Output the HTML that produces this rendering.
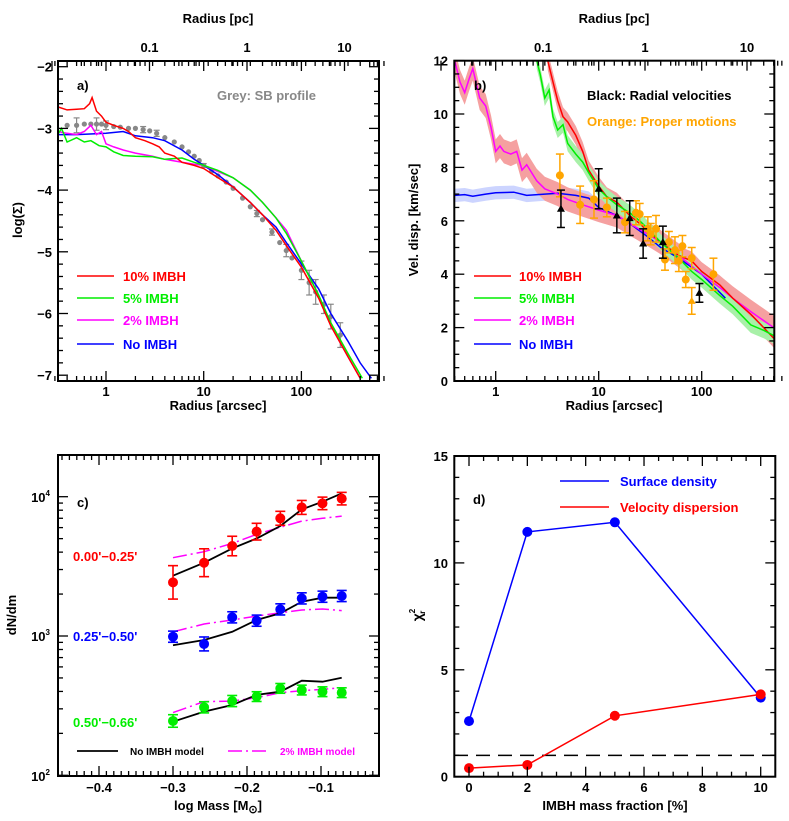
<!DOCTYPE html>
<html><head><meta charset="utf-8">
<style>
html,body{margin:0;padding:0;background:#fff;}
svg{display:block;font-family:"Liberation Sans",sans-serif;font-weight:bold;}
</style></head>
<body>
<svg id="fig" width="789" height="821" viewBox="0 0 789 821" xmlns="http://www.w3.org/2000/svg">
<defs>
<clipPath id="clipA"><rect x="58" y="61" width="321" height="320"/></clipPath>
<clipPath id="clipB"><rect x="454.3" y="60.7" width="320" height="320.3"/></clipPath>
<clipPath id="clipC"><rect x="58" y="455" width="321" height="321"/></clipPath>
<clipPath id="clipD"><rect x="454.3" y="456" width="321" height="320.7"/></clipPath>
</defs>
</svg>
<script>
// ===== Panel a data (radius arcsec, log Sigma) =====
const aRedR=[0.32,0.4,0.5,0.6,0.68,0.72,0.8,0.9,1.0,1.2,1.5,1.7,2,2.5,3,3.5,4,5,6,8,10,14,20,30,40,55,70,100,150,200,300,400];
const aRedV=[-2.65,-2.7,-2.69,-2.68,-2.6,-2.5,-2.72,-2.8,-2.9,-2.95,-3.0,-3.05,-3.15,-3.2,-3.25,-3.3,-3.4,-3.45,-3.55,-3.6,-3.65,-3.8,-3.95,-4.2,-4.4,-4.65,-4.9,-5.25,-5.75,-6.2,-6.7,-7.05];
const aGrnR=[0.32,0.35,0.4,0.5,0.6,0.7,0.85,1.0,1.2,1.5,2,3,4,6,8,10,14,20,30,40,55,70,100,150,200,300,420];
const aGrnV=[-3.1,-3.0,-3.22,-3.15,-3.22,-3.2,-3.28,-3.3,-3.38,-3.44,-3.45,-3.46,-3.5,-3.48,-3.55,-3.6,-3.68,-3.8,-4.0,-4.2,-4.45,-4.7,-5.15,-5.7,-6.15,-6.65,-7.05];
const aMagR=[0.32,0.4,0.5,0.6,0.7,0.8,0.9,1.0,1.2,1.5,2,3,4,6,8,10,14,20,30,40,55,70,100,150,200,300,400];
const aMagV=[-3.05,-3.08,-3.1,-3.05,-2.95,-3.1,-3.05,-3.25,-3.3,-3.35,-3.4,-3.45,-3.5,-3.55,-3.58,-3.6,-3.7,-3.8,-4.0,-4.2,-4.45,-4.65,-5.15,-5.7,-6.2,-6.7,-7.05];
const aBluR=[0.32,0.5,1,1.5,2,3,4,6,8,10,14,20,30,40,55,70,100,150,200,300,400,520];
const aBluV=[-3.1,-3.1,-3.08,-3.05,-3.12,-3.15,-3.2,-3.35,-3.5,-3.6,-3.75,-3.95,-4.2,-4.4,-4.6,-4.85,-5.2,-5.6,-6.0,-6.45,-6.8,-7.05];
const aSbR=[0.4,0.5,0.6,0.7,0.8,0.9,1.0,1.2,1.4,1.7,2,2.4,2.8,3.3,4,5,6,7,8,9,10,12,14,17,20,25,30,35,40,50,60,70,80,100,120,140,170,200,250];
const aSbV=[-2.95,-2.95,-2.93,-2.93,-2.93,-2.93,-2.95,-2.97,-2.98,-3.0,-3.0,-3.02,-3.04,-3.08,-3.15,-3.22,-3.3,-3.38,-3.45,-3.52,-3.6,-3.7,-3.77,-3.87,-3.97,-4.13,-4.27,-4.38,-4.48,-4.68,-4.85,-4.98,-5.1,-5.3,-5.5,-5.65,-5.85,-6.05,-6.35];
const aSbE=[0,0.12,0,0,0.1,0,0.07,0,0,0,0,0.05,0,0.05,0,0,0,0,0,0,0.03,0,0,0,0,0,0,0.05,0,0.05,0,0.1,0,0.15,0.2,0.2,0.15,0.2,0.2];
// ===== Panel b data =====
const bMagR=[0.4,0.45,0.5,0.55,0.6,0.7,0.8,0.9,1.0,1.1,1.2,1.4,1.6,1.8,2,2.5,3,4,5,7,10,15,20,30,40,60,100,150,200,300,500];
const bMagV=[12,11.2,10.8,11.3,11.7,10.6,10.3,9.5,8.6,8.8,8.6,8.5,8.6,7.9,8.1,7.5,7.2,7.0,6.8,6.6,6.4,6.2,5.9,5.5,5.2,4.7,4.0,3.5,3.1,2.6,2.0];
const bBluR=[0.4,0.5,0.6,0.8,1,1.5,2,3,4,6,8,10,15,20,30,40,60,100,170];
const bBluV=[6.95,6.98,6.92,7.0,7.05,7.07,6.95,7.0,7.03,6.95,6.85,6.5,6.2,5.9,5.4,5.0,4.6,4.0,3.1];
const bGrnR=[2.5,2.7,3,3.3,3.6,4,4.5,5,6,7,8,10,12,15,20,25,30,40,60,80,100,150,200,300,400,500];
const bGrnV=[12,11.5,10.6,10.9,9.9,9.4,9.6,8.9,8.5,8.2,7.8,7.2,6.9,6.6,6.3,6.0,5.7,5.2,4.6,4.1,3.8,3.2,2.8,2.1,1.9,1.7];
const bRedR=[3.2,3.6,4,4.5,5,6,7,8,10,12,15,20,25,30,40,60,80,100,150,200,300,400,500];
const bRedV=[12,11.2,10.5,9.9,9.7,9.2,8.6,7.9,7.3,6.9,6.7,6.2,5.9,5.6,5.2,4.7,4.5,4.1,3.6,3.1,2.5,2.0,1.6];
const bBlkR=[4.3,10,15,20,27,42,95];
const bBlkV=[6.45,7.2,6.2,6.1,5.15,5.2,3.3];
const bBlkE=[0.7,0.75,0.65,0.65,0.55,0.6,0.35];
const bOrR=[4.2,6.6,9,12,18,23,25,30,32,36,44,48,55,60,65,70,80,130];
const bOrV=[7.7,6.6,6.8,6.5,5.95,6.3,6.25,5.7,5.5,5.7,4.55,5.2,4.9,4.5,5.05,3.8,4.6,4.0];
const bOrE=[0.8,0.7,0.7,0.35,0.4,0.45,0.4,0.45,0.4,0.5,0.4,0.4,0.5,0.4,0.4,0.3,0.4,0.6];
const bOrTriR=[80];
const bOrTriV=[3.0];
const bOrTriE=[0.5];
// ===== Panel c data (log mass, log dN/dm) =====
const cMass=[-0.3,-0.258,-0.22,-0.187,-0.155,-0.126,-0.098,-0.072];
const cRedPts=[3.385,3.526,3.646,3.749,3.845,3.923,3.952,3.986];
const cRedErr=[0.12,0.1,0.07,0.06,0.05,0.05,0.045,0.045];
const cRedNo=[3.433,3.526,3.629,3.70,3.79,3.909,3.964,4.024];
const cRed2=[3.562,3.605,3.665,3.73,3.78,3.825,3.845,3.861];
const cBluPts=[2.995,2.943,3.134,3.11,3.191,3.27,3.282,3.287];
const cBluErr=[0.04,0.05,0.04,0.04,0.04,0.04,0.04,0.04];
const cBluNo=[2.933,2.971,3.03,3.115,3.163,3.246,3.275,3.275];
const cBlu2=[3.03,3.086,3.115,3.143,3.167,3.187,3.194,3.182];
const cGrnPts=[2.39,2.488,2.533,2.565,2.624,2.612,2.60,2.593];
const cGrnErr=[0.045,0.04,0.04,0.035,0.035,0.035,0.035,0.035];
const cGrnNo=[2.385,2.457,2.505,2.577,2.60,2.679,2.672,2.70];
const cGrn2=[2.45,2.529,2.533,2.557,2.593,2.607,2.617,2.629];
// ===== Panel d data =====
const dFrac=[0,2,5,10];
const dSurf=[2.6,11.45,11.9,3.7];
const dVel=[0.4,0.55,2.85,3.85];
const dRef=[1];

const NS="http://www.w3.org/2000/svg";
const svg=document.getElementById('fig');
function mk(tag,attrs,parent){const e=document.createElementNS(NS,tag);for(const k in attrs)e.setAttribute(k,attrs[k]);(parent||svg).appendChild(e);return e;}
const L10=Math.log10;

const xa=r=>106+97.7*L10(r), ya=v=>66.7+(-2-v)*61.7, pcA=p=>247+97.5*L10(p);
const xb=r=>495.7+103*L10(r), yb=v=>381-26.7*v, pcB=p=>645+102*L10(p);
const xc=m=>173+740*(m+0.3), yc=l=>496.7+(4-l)*139.3;
const xd=f=>469+29.17*f, yd=v=>776.7-21.38*v;

function frame(x0,y0,x1,y1,name){
  const r=mk('rect',{x:x0,y:y0,width:x1-x0,height:y1-y0,fill:'none',stroke:'#000','stroke-width':2});
  
  
}
function tick(x,y,dx,dy){mk('line',{x1:x,y1:y,x2:x+dx,y2:y+dy,stroke:'#000','stroke-width':1.3});}
function txt(x,y,s,opt){
  const t=mk('text',Object.assign({x:x,y:y,'font-size':13,fill:'#000','text-anchor':'middle'},opt||{}));
  t.textContent=s;return t;
}
function path(pts,attrs,g){return mk('path',Object.assign({d:'M'+pts.map(p=>p[0].toFixed(1)+','+p[1].toFixed(1)).join('L'),fill:'none'},attrs),g);}
function logTicksX(f,lo,hi,y0,y1,bottomLabels,topLabels){
  for(let e=-3;e<=3;e++)for(let m=1;m<=9;m++){const v=m*Math.pow(10,e);if(v<lo||v>hi)continue;const x=f(v);const len=m===1?10:5;
    if(bottomLabels!==null)tick(x,y1,0,-len);
    if(topLabels!==null)tick(x,y0,0,len);
  }
}

// ===== PANEL A =====
(function(){
  const g=mk('g',{'clip-path':'url(#clipA)'});
  
  
  for(let i=0;i<aSbR.length;i++){
    const x=xa(aSbR[i]),y=ya(aSbV[i]);
    const c=mk('circle',{cx:x,cy:y,r:2.6,fill:'#888'},g);
    
    
    if(aSbE[i]>0){const e=aSbE[i];mk('line',{x1:x,y1:ya(aSbV[i]+e),x2:x,y2:ya(aSbV[i]-e),stroke:'#888','stroke-width':1.2},g);
      mk('line',{x1:x-3,y1:ya(aSbV[i]+e),x2:x+3,y2:ya(aSbV[i]+e),stroke:'#888','stroke-width':1.2},g);
      mk('line',{x1:x-3,y1:ya(aSbV[i]-e),x2:x+3,y2:ya(aSbV[i]-e),stroke:'#888','stroke-width':1.2},g);}
  }
  const series=[[aBluR,aBluV,'#0000ff','no-imbh-curve-a'],[aMagR,aMagV,'#ff00ff','imbh-2pct-curve-a'],[aGrnR,aGrnV,'#00ee00','imbh-5pct-curve-a'],[aRedR,aRedV,'#ff0000','imbh-10pct-curve-a']];
  series.forEach(s=>{const p=path(s[0].map((r,i)=>[xa(r),ya(s[1][i])]),{stroke:s[2],'stroke-width':1.5},g);
    
    });
  frame(58,61,379,381,'panel-a-frame');
  logTicksX(xa,0.3,700,61,381);
  [1,10,100].forEach(v=>txt(xa(v),396,String(v)));
  logTicksX(pcA,0.01,20,61,381,null,true);
  [[0.1,'0.1'],[1,'1'],[10,'10']].forEach(v=>txt(pcA(v[0]),52,v[1]));
  for(let v=-7;v<=-2+1e-9;v+=0.2){const y=ya(v);if(y<61||y>381)continue;const maj=Math.abs(v-Math.round(v))<1e-6;const len=maj?10:5;tick(58,y,len,0);tick(379,y,-len,0);}
  for(let v=-7;v<=-2;v++)txt(52,ya(v)+5,'−'+(-v),{'text-anchor':'end'});
  const t1=txt(218,410,'Radius [arcsec]');
  const t2=txt(218,23,'Radius [pc]');
  const t3=txt(0,0,'log(Σ)',{transform:'translate(22,220) rotate(-90)'});
  txt(77,90,'a)',{'text-anchor':'start'});
  const t4=txt(217,100,'Grey: SB profile',{'text-anchor':'start',fill:'#888'});
  [['10% IMBH','#ff0000',276],['5% IMBH','#00ee00',298],['2% IMBH','#ff00ff',320],['No IMBH','#0000ff',344]].forEach(l=>{
    mk('line',{x1:77,y1:l[2],x2:114,y2:l[2],stroke:l[1],'stroke-width':1.5});
    const t=txt(123,l[2]+5,l[0],{'text-anchor':'start',fill:l[1]});
    
    
  });
})();

// ===== PANEL B =====
(function(){
  const g=mk('g',{'clip-path':'url(#clipB)'});
  
  
  function band(R,V,w,col){
    const up=R.map((r,i)=>[xb(r),yb(V[i]+w)]),dn=R.map((r,i)=>[xb(r),yb(V[i]-w)]).reverse();
    mk('path',{d:'M'+up.concat(dn).map(p=>p[0].toFixed(1)+','+p[1].toFixed(1)).join('L')+'Z',fill:col,stroke:'none'},g);
  }
  band(bBluR,bBluV,0.25,'#ccd4ff');
  band(bMagR,bMagV,0.45,'#f5a0a0');
  band(bRedR,bRedV,0.35,'#f5a0a0');
  band(bGrnR,bGrnV,0.3,'#a8f0a8');
  const series=[[bBluR,bBluV,'#0000ff','no-imbh-curve-b'],[bMagR,bMagV,'#ff00ff','imbh-2pct-curve-b'],[bRedR,bRedV,'#ff0000','imbh-10pct-curve-b'],[bGrnR,bGrnV,'#00ee00','imbh-5pct-curve-b']];
  series.forEach(s=>{const p=path(s[0].map((r,i)=>[xb(r),yb(s[1][i])]),{stroke:s[2],'stroke-width':1.5},g);
    
    });
  function ebar(x,v,e,col){const y1=yb(v+e),y2=yb(v-e);mk('line',{x1:x,y1:y1,x2:x,y2:y2,stroke:col,'stroke-width':1.5},g);
    mk('line',{x1:x-4,y1:y1,x2:x+4,y2:y1,stroke:col,'stroke-width':1.5},g);mk('line',{x1:x-4,y1:y2,x2:x+4,y2:y2,stroke:col,'stroke-width':1.5},g);}
  for(let i=0;i<bOrR.length;i++){const x=xb(bOrR[i]);ebar(x,bOrV[i],bOrE[i],'#ffa500');
    const c=mk('circle',{cx:x,cy:yb(bOrV[i]),r:4,fill:'#ffa500'},g);
    
    }
  for(let i=0;i<bOrTriR.length;i++){const x=xb(bOrTriR[i]),y=yb(bOrTriV[i]);ebar(x,bOrTriV[i],bOrTriE[i],'#ffa500');
    const p=mk('path',{d:`M${x},${y-4}L${x+4},${y+3}L${x-4},${y+3}Z`,fill:'#ffa500'},g);
    
    }
  for(let i=0;i<bBlkR.length;i++){const x=xb(bBlkR[i]),y=yb(bBlkV[i]);ebar(x,bBlkV[i],bBlkE[i],'#000');
    const p=mk('path',{d:`M${x},${y-4}L${x+4},${y+3}L${x-4},${y+3}Z`,fill:'#000'},g);
    
    }
  frame(454.3,60.7,774.3,381,'panel-b-frame');
  logTicksX(xb,0.4,600,60.7,381);
  [1,10,100].forEach(v=>txt(xb(v),396,String(v)));
  logTicksX(pcB,0.01,20,60.7,381,null,true);
  [[0.1,'0.1'],[1,'1'],[10,'10']].forEach(v=>txt(pcB(v[0]),52,v[1]));
  for(let v=0;v<=12+1e-9;v+=0.5){const y=yb(v);const maj=Math.abs(v/2-Math.round(v/2))<1e-6;const len=maj?10:5;tick(454.3,y,len,0);tick(774.3,y,-len,0);}
  for(let v=0;v<=12;v+=2)txt(448,yb(v)+5,String(v),{'text-anchor':'end'});
  const t1=txt(614,410,'Radius [arcsec]');
  const t2=txt(614,23,'Radius [pc]');
  const t3=txt(0,0,'Vel. disp. [km/sec]',{transform:'translate(418,220) rotate(-90)'});
  txt(474,90,'b)',{'text-anchor':'start'});
  const t4=txt(587,100,'Black: Radial velocities',{'text-anchor':'start'});
  const t5=txt(587,126,'Orange: Proper motions',{'text-anchor':'start',fill:'#ffa500'});
  [['10% IMBH','#ff0000',276],['5% IMBH','#00ee00',298],['2% IMBH','#ff00ff',320],['No IMBH','#0000ff',344]].forEach(l=>{
    mk('line',{x1:474,y1:l[2],x2:511,y2:l[2],stroke:l[1],'stroke-width':1.5});
    const t=txt(519,l[2]+5,l[0],{'text-anchor':'start',fill:l[1]});
    
    
  });
})();

// ===== PANEL C =====
(function(){
  const g=mk('g',{'clip-path':'url(#clipC)'});
  
  
  const groups=[[cRedPts,cRedErr,cRedNo,cRed2,'#ff0000'],[cBluPts,cBluErr,cBluNo,cBlu2,'#0000ff'],[cGrnPts,cGrnErr,cGrnNo,cGrn2,'#00ee00']];
  groups.forEach(gr=>{
    const m2=path(cMass.map((m,i)=>[xc(m),yc(gr[3][i])]),{stroke:'#ff00ff','stroke-width':1.5,'stroke-dasharray':'14,4,2,4'},g);
    
    
    const m0=path(cMass.map((m,i)=>[xc(m),yc(gr[2][i])]),{stroke:'#000','stroke-width':1.8},g);
    
    
    cMass.forEach((m,i)=>{const x=xc(m),v=gr[0][i],e=gr[1][i];const y1=yc(v+e),y2=yc(v-e);
      mk('line',{x1:x,y1:y1,x2:x,y2:y2,stroke:gr[4],'stroke-width':1.6},g);
      mk('line',{x1:x-5,y1:y1,x2:x+5,y2:y1,stroke:gr[4],'stroke-width':1.6},g);
      mk('line',{x1:x-5,y1:y2,x2:x+5,y2:y2,stroke:gr[4],'stroke-width':1.6},g);
      const c=mk('circle',{cx:x,cy:yc(v),r:5,fill:gr[4]},g);
      
      });
  });
  frame(58,455,379,776,'panel-c-frame');
  for(let k=-45;k<=-2;k++){const v=k/100;const x=xc(v);if(x<58||x>379)continue;const maj=k%10===0;const len=maj?10:5;tick(x,776,0,-len);tick(x,455,0,len);}
  [[-0.4,'−0.4'],[-0.3,'−0.3'],[-0.2,'−0.2'],[-0.1,'−0.1']].forEach(v=>txt(xc(v[0]),792,v[1]));
  for(let e=2;e<=4;e++)for(let m=1;m<=9;m++){const l=e+L10(m);const y=yc(l);if(y<455||y>776)continue;const len=m===1?10:5;tick(58,y,len,0);tick(379,y,-len,0);}
  [[2,'2',776],[3,'3',636],[4,'4',497]].forEach(v=>{const t=txt(50,v[2]+5,'10',{'text-anchor':'end'});const s=mk('tspan',{dy:-6,'font-size':8});s.textContent=v[1];t.appendChild(s);});
  const t1=txt(218,810,'log Mass [M',{});const s1=mk('tspan',{'font-size':11,dy:3});s1.textContent='⊙';t1.appendChild(s1);const s2=mk('tspan',{dy:-3});s2.textContent=']';t1.appendChild(s2);
  
  const t3=txt(0,0,'dN/dm',{transform:'translate(16,615) rotate(-90)'});
  txt(77,507,'c)',{'text-anchor':'start'});
  [["0.00'−0.25'",'#ff0000',561],["0.25'−0.50'",'#0000ff',641],["0.50'−0.66'",'#00ee00',727]].forEach(l=>{
    const t=txt(73,l[2],l[0],{'text-anchor':'start',fill:l[1]});
    
    });
  mk('line',{x1:77,y1:751,x2:118,y2:751,stroke:'#000','stroke-width':1.8});
  const l1=txt(130,755,'No IMBH model',{'text-anchor':'start','font-size':10});
  mk('line',{x1:228,y1:751,x2:270,y2:751,stroke:'#ff00ff','stroke-width':1.5,'stroke-dasharray':'14,4,2,4'});
  const l2=txt(280,755,'2% IMBH model',{'text-anchor':'start','font-size':10,fill:'#ff00ff'});
})();

// ===== PANEL D =====
(function(){
  const g=mk('g',{'clip-path':'url(#clipD)'});
  
  
  dRef.forEach(v=>{const l=mk('line',{x1:454,y1:yd(v),x2:776,y2:yd(v),stroke:'#000','stroke-width':1.5,'stroke-dasharray':'14,8'},g);
    
    });
  [[dSurf,'#0000ff','surface-density'],[dVel,'#ff0000','velocity-dispersion']].forEach(s=>{
    const p=path(dFrac.map((f,i)=>[xd(f),yd(s[0][i])]),{stroke:s[1],'stroke-width':1.5},g);
    
    
    dFrac.forEach((f,i)=>{const c=mk('circle',{cx:xd(f),cy:yd(s[0][i]),r:5,fill:s[1]},g);
      
      });
  });
  frame(454.3,456,775.3,776.7,'panel-d-frame');
  for(let v=-0.5;v<=10.5+1e-9;v+=0.5){const x=xd(v);const maj=Math.abs(v/2-Math.round(v/2))<1e-6;const len=maj?10:5;tick(x,776.7,0,-len);tick(x,456,0,len);}
  for(let v=0;v<=10;v+=2)txt(xd(v),792,String(v));
  for(let v=0;v<=15;v++){const y=yd(v);const len=v%5===0?10:5;tick(454.3,y,len,0);tick(775.3,y,-len,0);}
  for(let v=0;v<=15;v+=5)txt(448,yd(v)+5,String(v),{'text-anchor':'end'});
  const t1=txt(615,810,'IMBH mass fraction [%]');
  const t3=txt(0,0,'χ',{transform:'translate(422,615) rotate(-90)','font-size':14});const sp=mk('tspan',{'font-size':8,dy:-7});sp.textContent='2';t3.appendChild(sp);const sb=mk('tspan',{'font-size':8,dy:10,dx:-5});sb.textContent='r';t3.appendChild(sb);
  
  txt(473,504,'d)',{'text-anchor':'start'});
  [['Surface density','#0000ff',481],['Velocity dispersion','#ff0000',507]].forEach(l=>{
    mk('line',{x1:560,y1:l[2],x2:609,y2:l[2],stroke:l[1],'stroke-width':1.5});
    const t=txt(620,l[2]+5,l[0],{'text-anchor':'start',fill:l[1]});
    
    });
})();
</script>
</body></html>
